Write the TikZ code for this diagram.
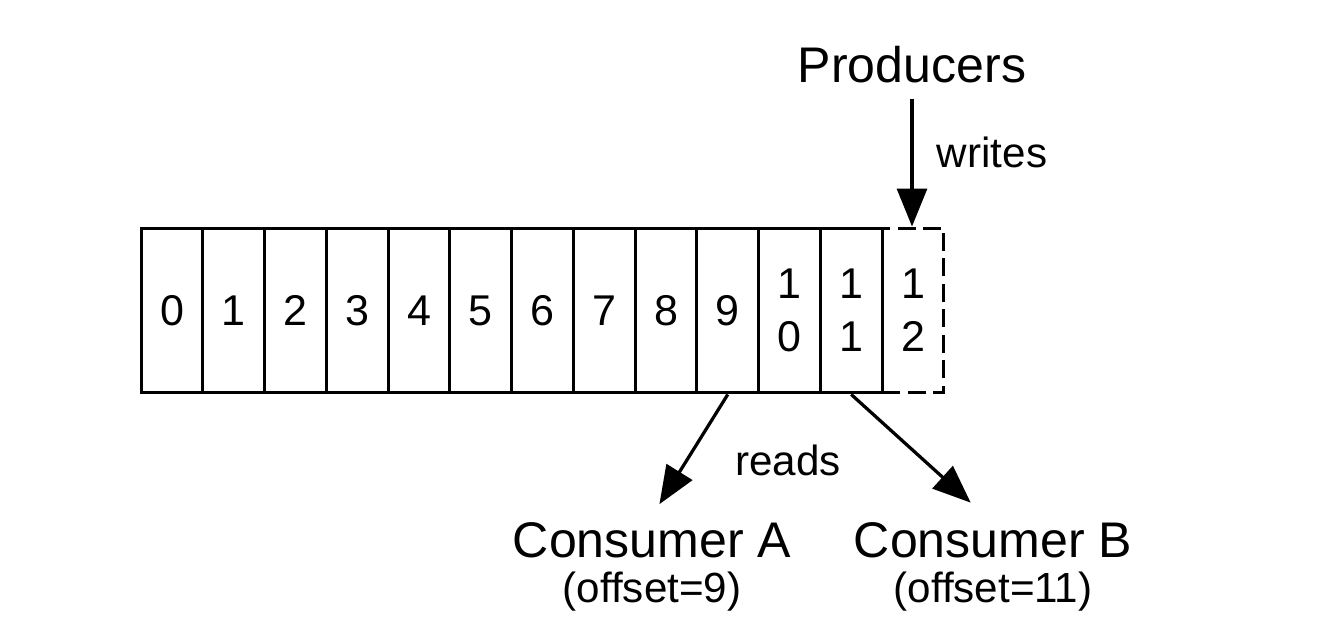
\documentclass[tikz,border=0pt]{standalone}
\usepackage{fontspec}
\setmainfont{Liberation Sans}
\usetikzlibrary{arrows.meta,positioning}

\begin{document}
\begin{tikzpicture}[x=0.02cm,y=-0.02cm,
        cell/.style={draw,line width=0.06cm,minimum width=1.235cm,minimum height=3.3cm,inner sep=0pt,align=center,font=\fontsize{24.5}{30}\selectfont},
        dcell/.style={cell,dash pattern=on 0.36cm off 0.15cm},
        arr/.style={-{Triangle[width=0.6cm,length=0.76cm]},line width=0.065cm},
        big/.style={font=\fontsize{28.5}{34}\selectfont},
        small/.style={font=\fontsize{24}{29}\selectfont}]
        \useasboundingbox (0,0) rectangle (1334,634);

        \foreach \i in {0,...,9}
            \node[cell] (c\i) at (172+61.75*\i,310.5) {\i};
        \node[cell] (c10) at (789.5,310.5) {1\\0};
        \node[cell] (c11) at (851.25,310.5) {1\\1};
        \node[dcell] (c12) at (913,310.5) {1\\2};

        \node[big] (prod) at (912,65) {Producers};
        \node[big] (consA) at (652,540) {Consumer A};
        \node[small] (offA) at (652,592) {(offset=9)};
        \node[big] (consB) at (993,540) {Consumer B};
        \node[small] (offB) at (993,592) {(offset=11)};
        \node[small] (rlbl) at (788,460) {reads};

        \draw[arr,shorten <=0.18cm] (prod.south) -- (prod.south |- c12.north)
            node[small,right=0.35cm,pos=0.46] (wlbl) {writes};
        \draw[arr,shorten >=0.28cm] (c9.south) -- (consA.north);
        \draw[arr,shorten >=0.4cm] (c11.south) -- ([xshift=-0.15cm]consB.north);
    \end{tikzpicture}
\end{document}
